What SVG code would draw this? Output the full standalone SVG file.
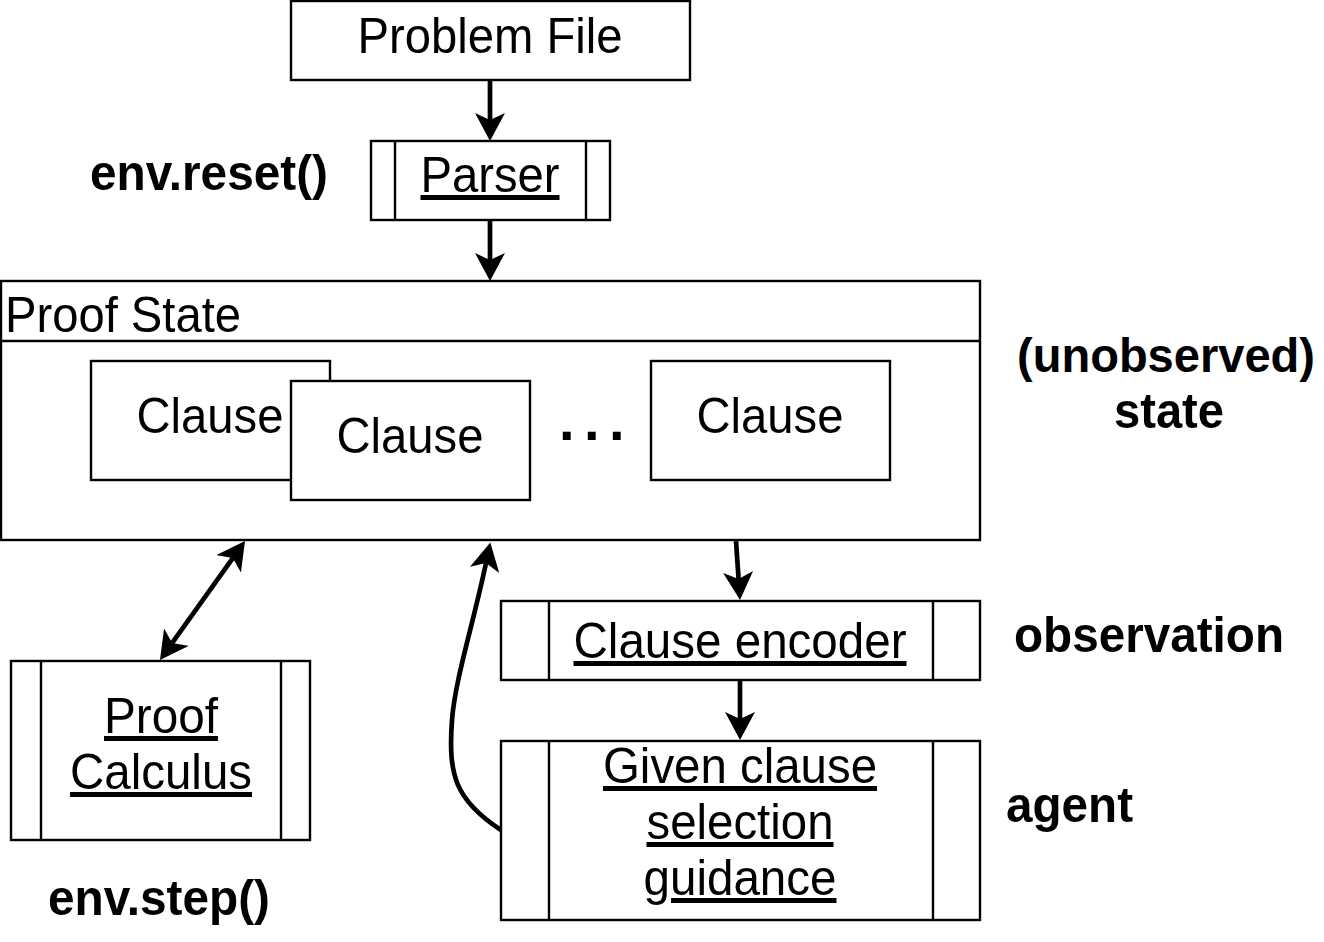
<svg xmlns="http://www.w3.org/2000/svg" width="1324" height="942" viewBox="0 0 1324 942">
<style>
.box{fill:#fff;stroke:#000;stroke-width:2.4}
.ln{fill:none;stroke:#000;stroke-width:2.4}
.t{font-family:"Liberation Sans",Arial,Helvetica,sans-serif;font-size:50px;fill:#000}
.c{text-anchor:middle}
.u{text-decoration:underline;text-decoration-thickness:2.4px;text-underline-offset:6px}
.b{font-weight:bold}
.edge{fill:none;stroke:#000;stroke-width:4.7}
</style>
<defs>
<marker id="ah" markerUnits="userSpaceOnUse" viewBox="0 0 28 30" markerWidth="28" markerHeight="30" refX="7" refY="15" orient="auto-start-reverse">
<path d="M0,0 L28,15 L0,30 L7,15 Z" fill="#000"/>
</marker>
</defs>
<rect width="1324" height="942" fill="#fff"/>

<g id="problem-file">
<rect class="box" x="291" y="1" width="399" height="79"/>
<text class="t c" x="490" y="53" textLength="265" lengthAdjust="spacingAndGlyphs">Problem File</text>
</g>

<g id="parser">
<rect class="box" x="371" y="141" width="239" height="79"/>
<line class="ln" x1="395" y1="141" x2="395" y2="220"/>
<line class="ln" x1="586" y1="141" x2="586" y2="220"/>
<text class="t c u" x="490" y="192" textLength="139" lengthAdjust="spacingAndGlyphs">Parser</text>
</g>

<g id="proof-state">
<rect class="box" x="1" y="281" width="979" height="259"/>
<line class="ln" x1="1" y1="341" x2="980" y2="341"/>
<text class="t" x="5" y="332" textLength="236" lengthAdjust="spacingAndGlyphs">Proof State</text>
</g>

<g id="clause-1">
<rect class="box" x="91" y="361" width="239" height="119"/>
<text class="t c" x="210" y="433" textLength="147" lengthAdjust="spacingAndGlyphs">Clause</text>
</g>

<g id="clause-2">
<rect class="box" x="291" y="381" width="239" height="119"/>
<text class="t c" x="410" y="453" textLength="147" lengthAdjust="spacingAndGlyphs">Clause</text>
</g>

<g id="ellipsis">
<text class="t b" x="559" y="440" style="font-size:56px;letter-spacing:9.4px">...</text>
</g>

<g id="clause-3">
<rect class="box" x="651" y="361" width="239" height="119"/>
<text class="t c" x="770" y="433" textLength="147" lengthAdjust="spacingAndGlyphs">Clause</text>
</g>

<g id="proof-calculus">
<rect class="box" x="11" y="661" width="299" height="179"/>
<line class="ln" x1="41" y1="661" x2="41" y2="840"/>
<line class="ln" x1="281" y1="661" x2="281" y2="840"/>
<text class="t c u" x="161" y="733" textLength="114" lengthAdjust="spacingAndGlyphs">Proof</text>
<text class="t c u" x="161" y="789" textLength="182" lengthAdjust="spacingAndGlyphs">Calculus</text>
</g>

<g id="clause-encoder">
<rect class="box" x="501" y="601" width="479" height="79"/>
<line class="ln" x1="549" y1="601" x2="549" y2="680"/>
<line class="ln" x1="933" y1="601" x2="933" y2="680"/>
<text class="t c u" x="740" y="658" textLength="333" lengthAdjust="spacingAndGlyphs">Clause encoder</text>
</g>

<g id="given-clause">
<rect class="box" x="501" y="741" width="479" height="179"/>
<line class="ln" x1="549" y1="741" x2="549" y2="920"/>
<line class="ln" x1="933" y1="741" x2="933" y2="920"/>
<text class="t c u" x="740" y="783" textLength="274" lengthAdjust="spacingAndGlyphs">Given clause</text>
<text class="t c u" x="740" y="839" textLength="187" lengthAdjust="spacingAndGlyphs">selection</text>
<text class="t c u" x="740" y="895" textLength="193" lengthAdjust="spacingAndGlyphs">guidance</text>
</g>

<g id="labels">
<text class="t b c" x="209" y="190" textLength="238" lengthAdjust="spacingAndGlyphs">env.reset()</text>
<text class="t b c" x="1166" y="372" style="font-size:48px" textLength="298" lengthAdjust="spacingAndGlyphs">(unobserved)</text>
<text class="t b c" x="1169" y="428" textLength="110" lengthAdjust="spacingAndGlyphs">state</text>
<text class="t b" x="1014" y="652" textLength="270" lengthAdjust="spacingAndGlyphs">observation</text>
<text class="t b" x="1006" y="822" textLength="127" lengthAdjust="spacingAndGlyphs">agent</text>
<text class="t b c" x="159" y="915" textLength="222" lengthAdjust="spacingAndGlyphs">env.step()</text>
</g>

<g id="connectors">
<path class="edge" d="M490,80 L490,120" marker-end="url(#ah)"/>
<path class="edge" d="M490,220 L490,260" marker-end="url(#ah)"/>
<path class="edge" d="M172.2,642.9 L232.8,558.1" marker-start="url(#ah)" marker-end="url(#ah)"/>
<path class="edge" d="M736,541 L738.6,579" marker-end="url(#ah)"/>
<path class="edge" d="M740,680 L740,719" marker-end="url(#ah)"/>
<path class="edge" d="M501,830 C455,800 448,775 452,720 C455,680 473,625 486,563" marker-end="url(#ah)"/>
</g>
</svg>
